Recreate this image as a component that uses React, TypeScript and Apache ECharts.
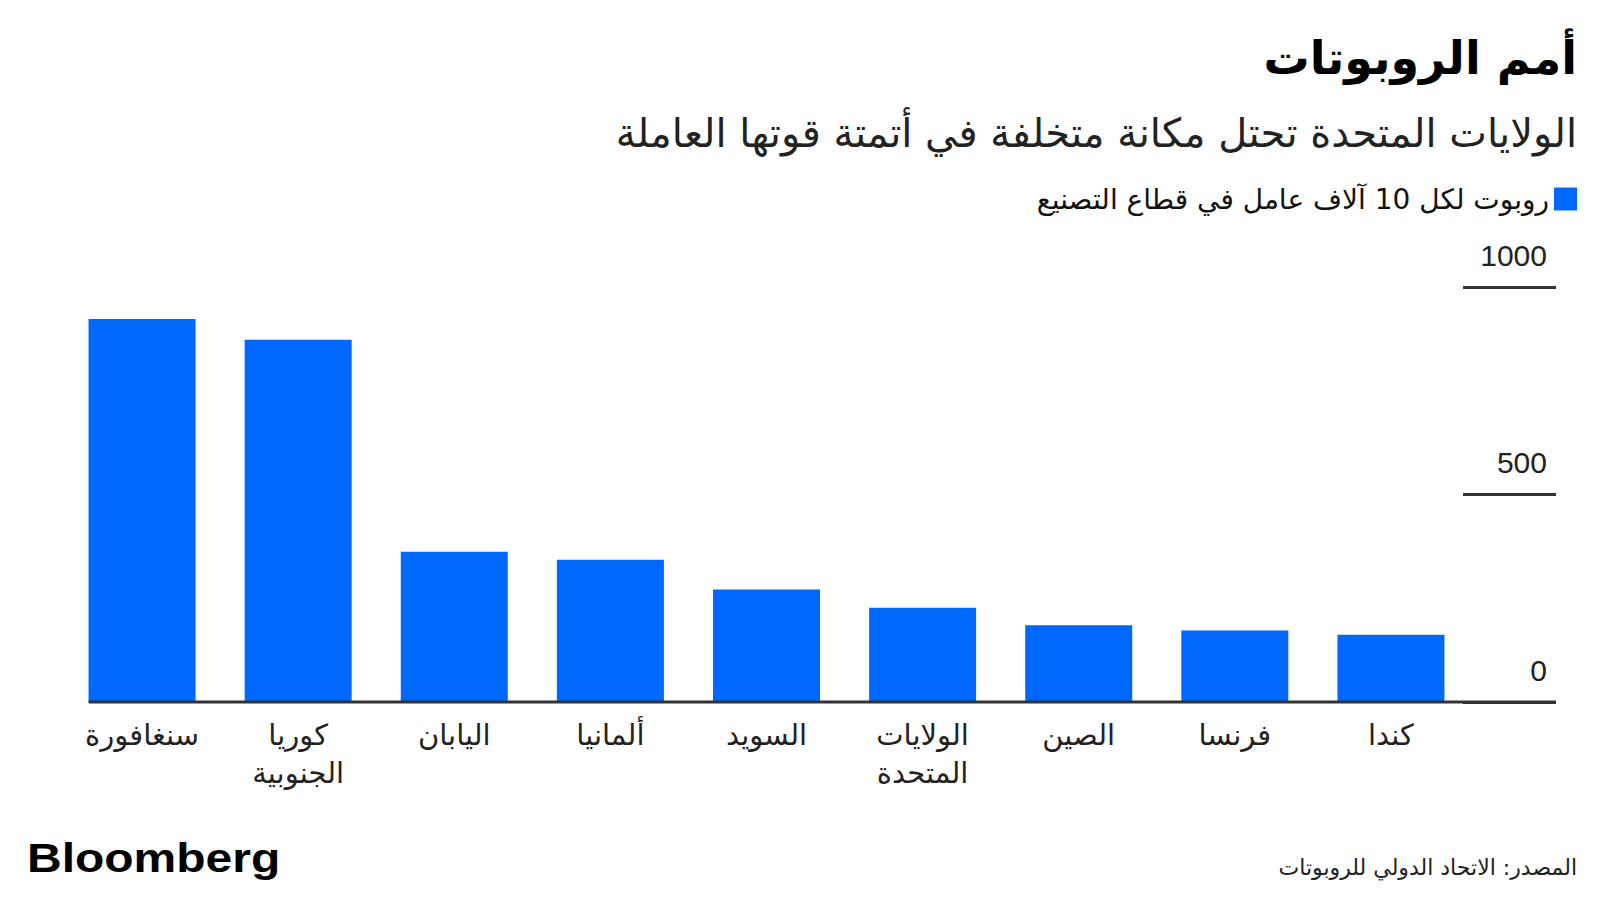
import React, { useEffect, useRef } from 'react';
import * as echarts from 'echarts';

// ---- data ----
const categories = [
  'سنغافورة',
  'كوريا\nالجنوبية',
  'اليابان',
  'ألمانيا',
  'السويد',
  'الولايات\nالمتحدة',
  'الصين',
  'فرنسا',
  'كندا',
];
const robotsPer10k = [923, 873, 362, 343, 271, 227, 185, 172, 162];
const yTicks = [0, 500, 1000];
const seriesName = 'روبوت لكل 10 آلاف عامل في قطاع التصنيع';
const titleText = 'أمم الروبوتات';
const subtitleText = 'الولايات المتحدة تحتل مكانة متخلفة في أتمتة قوتها العاملة';
const sourceText = 'المصدر: الاتحاد الدولي للروبوتات';
const brandText = 'Bloomberg';

// ---- layout / style ----
const W = 1600;
const H = 900;
const GRID_LEFT = 64;
const GRID_RIGHT = 131;
const GRID_TOP = 287;
const GRID_BOTTOM = 198;
const BAR_W = 107;
const Y_OFFSET = 87;
const BLUE = '#0068FF';
const AR_FONT = '"DejaVu Sans", "Noto Sans", sans-serif';
const LAT_FONT = '"Liberation Sans", Arial, sans-serif';

export default function App() {
  const ref = useRef<HTMLDivElement>(null);

  useEffect(() => {
    document.body.style.margin = '0';
    if (!ref.current) return;
    const chart = echarts.init(ref.current, undefined, { renderer: 'svg' });

    const band = (W - GRID_LEFT - GRID_RIGHT) / categories.length;
    const baseY = H - GRID_BOTTOM;
    const baseX1 = GRID_LEFT + (band - BAR_W) / 2;
    const baseX2 = W - GRID_RIGHT + Y_OFFSET;

    chart.setOption({
      animation: false,
      backgroundColor: '#ffffff',
      grid: { left: GRID_LEFT, right: GRID_RIGHT, top: GRID_TOP, bottom: GRID_BOTTOM },
      legend: {
        show: true,
        right: 18,
        top: 180,
        align: 'right',
        itemWidth: 23,
        itemHeight: 23,
        icon: 'rect',
        itemGap: 10,
        textStyle: { fontFamily: AR_FONT, fontSize: 28, color: '#111' },
        data: [seriesName],
      },
      xAxis: {
        type: 'category',
        data: categories,
        axisLine: { show: false },
        axisTick: { show: false },
        axisLabel: {
          interval: 0,
          margin: 14,
          fontFamily: AR_FONT,
          fontSize: 29,
          lineHeight: 38,
          color: '#222',
        },
      },
      yAxis: {
        type: 'value',
        position: 'right',
        offset: Y_OFFSET,
        min: yTicks[0],
        max: yTicks[yTicks.length - 1],
        interval: yTicks[1] - yTicks[0],
        axisLine: { show: false },
        splitLine: { show: false },
        axisTick: {
          show: true,
          inside: true,
          length: 93,
          lineStyle: { color: '#333', width: 3 },
        },
        axisLabel: {
          inside: true,
          margin: 9,
          fontFamily: LAT_FONT,
          fontSize: 30,
          color: '#222',
          verticalAlign: 'bottom',
          padding: [0, 0, 17, 0],
          formatter: (v: number) => String(v),
        },
      },
      series: [
        {
          name: seriesName,
          type: 'bar',
          data: robotsPer10k,
          barWidth: BAR_W,
          itemStyle: { color: BLUE },
        },
      ],
      graphic: [
        {
          type: 'line',
          z: 100,
          shape: { x1: baseX1, y1: baseY, x2: baseX2, y2: baseY },
          style: { stroke: '#333', lineWidth: 3 },
        },
        {
          type: 'text',
          x: 1577,
          y: 58,
          style: {
            text: titleText,
            fontFamily: AR_FONT,
            fontWeight: 'bold',
            fontSize: 46,
            fill: '#000',
            align: 'right',
            verticalAlign: 'middle',
          },
        },
        {
          type: 'text',
          x: 1577,
          y: 133,
          style: {
            text: subtitleText,
            fontFamily: AR_FONT,
            fontSize: 40,
            fill: '#222',
            align: 'right',
            verticalAlign: 'middle',
          },
        },
        {
          type: 'text',
          x: 1577,
          y: 867,
          style: {
            text: sourceText,
            fontFamily: AR_FONT,
            fontSize: 22,
            fill: '#222',
            align: 'right',
            verticalAlign: 'middle',
          },
        },
        {
          type: 'text',
          x: 27,
          y: 858,
          scaleX: 1.2,
          style: {
            text: brandText,
            fontFamily: LAT_FONT,
            fontWeight: 'bold',
            fontSize: 40,
            fill: '#000',
            align: 'left',
            verticalAlign: 'middle',
          },
        },
      ],
    });

    return () => chart.dispose();
  }, []);

  return <div ref={ref} style={{ width: W, height: H }} />;
}
